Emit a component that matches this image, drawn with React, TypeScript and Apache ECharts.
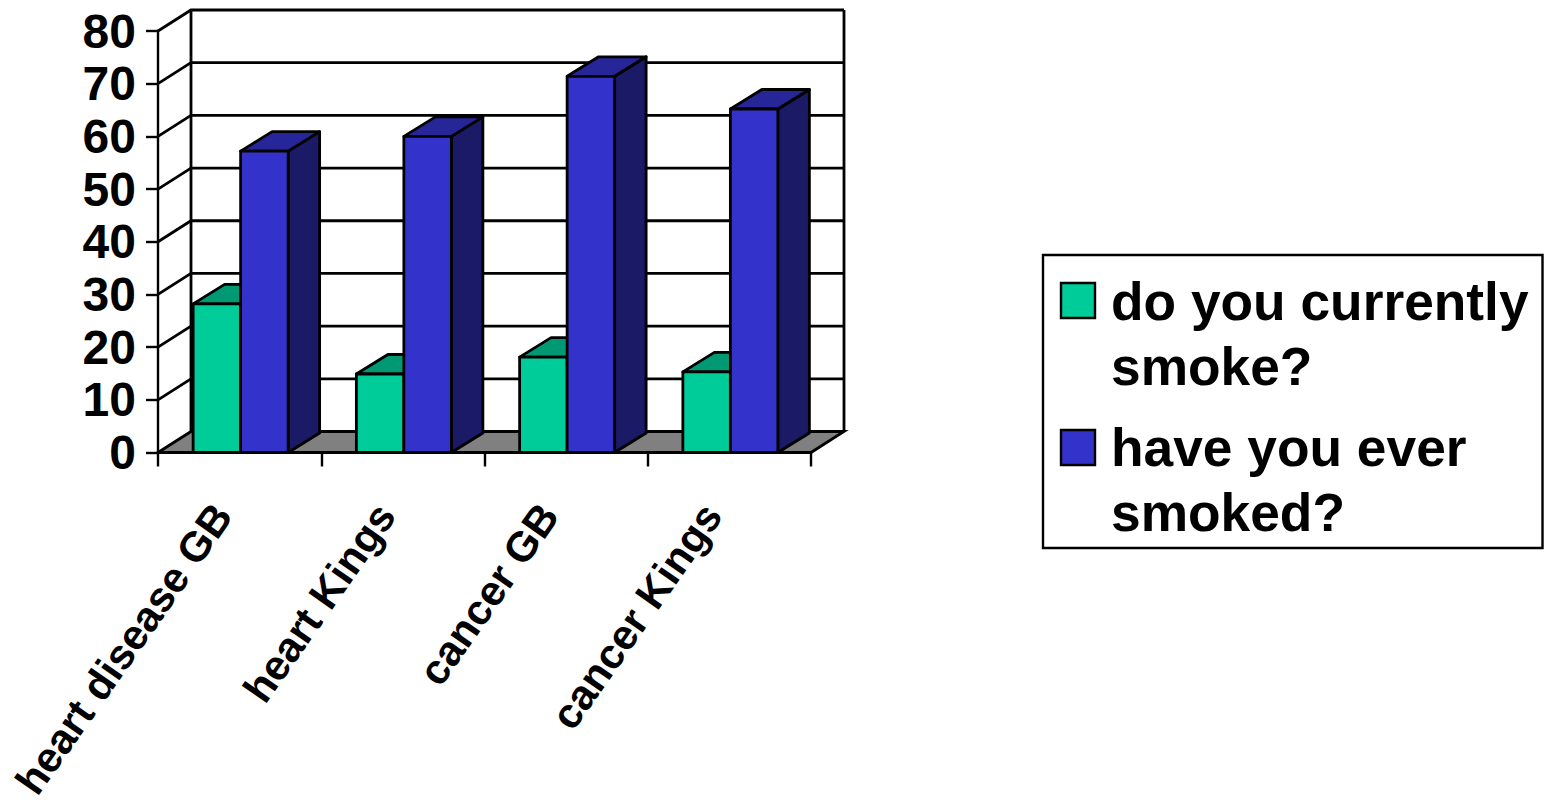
import React, { useEffect, useRef } from "react";
import * as echarts from "echarts";

const categories = ["heart disease GB", "heart Kings", "cancer GB", "cancer Kings"];
const currentlySmoke = [28.2, 14.9, 18.1, 15.3];
const everSmoked = [57.2, 60, 71.4, 65.2];
const yTicks = [0, 10, 20, 30, 40, 50, 60, 70, 80];
const legendLines1 = "do you currently\nsmoke?";
const legendLines2 = "have you ever\nsmoked?";

const FONT = '"Liberation Sans", Arial, sans-serif';
const DX = 33;
const DY = -21;
const BDX = 31.5;
const BDY = -19.5;
const BAR_RATIO = 47.5 / 163.25;
const BAR_SHIFT = 1;
const LW = 2.8;

function wallItem(params: any, api: any) {
  const v = api.value(0);
  const cs = params.coordSys;
  const y = api.coord([0, v])[1];
  const l = cs.x;
  const r = cs.x + cs.width;
  const st = { stroke: "#000", lineWidth: LW, fill: "none" };
  const ch: any[] = [];
  if (v === 0) {
    ch.push({
      type: "polygon",
      shape: { points: [[l, y], [l + DX, y + DY], [r + DX, y + DY], [r, y]] },
      style: { fill: "#808080", stroke: "#000", lineWidth: LW },
    });
    const top = api.coord([0, 80])[1];
    ch.push({ type: "line", shape: { x1: l + DX, y1: y + DY, x2: l + DX, y2: top + DY }, style: st });
    ch.push({ type: "line", shape: { x1: r + DX, y1: y + DY, x2: r + DX, y2: top + DY }, style: st });
  } else {
    ch.push({ type: "polyline", shape: { points: [[l, y], [l + DX, y + DY], [r + DX, y + DY]] }, style: st });
  }
  return { type: "group", children: ch };
}

function barItem(side: number, front: string, top: string, right: string) {
  return (_params: any, api: any) => {
    const idx = api.value(0);
    const [cx, yT] = api.coord([idx, api.value(1)]);
    const y0 = api.coord([idx, 0])[1];
    const w = api.size([1, 0])[0] * BAR_RATIO;
    const x1 = (side < 0 ? cx - w : cx) + BAR_SHIFT;
    const x2 = x1 + w;
    const s = { stroke: "#000", lineWidth: LW, lineJoin: "round" };
    return {
      type: "group",
      children: [
        { type: "polygon", shape: { points: [[x2, yT], [x2 + BDX, yT + BDY], [x2 + BDX, y0 + BDY], [x2, y0]] }, style: { fill: right, ...s } },
        { type: "polygon", shape: { points: [[x1, yT], [x1 + BDX, yT + BDY], [x2 + BDX, yT + BDY], [x2, yT]] }, style: { fill: top, ...s } },
        { type: "rect", shape: { x: x1, y: yT, width: w, height: y0 - yT }, style: { fill: front, ...s } },
      ],
    };
  };
}

export default function App() {
  const ref = useRef<HTMLDivElement>(null);
  useEffect(() => {
    const chart = echarts.init(ref.current!, undefined, { renderer: "svg" });
    const lbl = { fontFamily: FONT, fontWeight: "bold", fontSize: 53.3, fill: "#000", lineHeight: 65 };
    chart.setOption({
      animation: false,
      backgroundColor: "#fff",
      grid: { left: 158, top: 31, width: 653, height: 421.5, outerBoundsMode: "none" },
      xAxis: {
        type: "category",
        data: categories,
        boundaryGap: true,
        axisLine: { lineStyle: { color: "#000", width: 2.8 } },
        axisTick: { show: true, length: 14, alignWithLabel: false, lineStyle: { color: "#000", width: 2.4 } },
        axisLabel: {
          interval: 0,
          rotate: 55,
          margin: 31,
          padding: [0, 30, 0, 0],
          color: "#000",
          fontFamily: FONT,
          fontWeight: "bold",
          fontSize: 42,
        },
        splitLine: { show: false },
      },
      yAxis: {
        type: "value",
        min: 0,
        max: 80,
        interval: 10,
        axisLine: { show: true, lineStyle: { color: "#000", width: 2.4 } },
        axisTick: { show: true, length: 12, lineStyle: { color: "#000", width: 2.4 } },
        axisLabel: { margin: 22, color: "#000", fontFamily: FONT, fontWeight: "bold", fontSize: 48 },
        splitLine: { show: false },
      },
      series: [
        { type: "custom", name: "walls", renderItem: wallItem, clip: false, silent: true, z: 1, data: yTicks.map((v) => [v]), encode: { y: 0 } },
        {
          type: "custom",
          name: "do you currently smoke?",
          renderItem: barItem(-1, "#00CC99", "#009973", "#007A5C"),
          clip: false,
          z: 2,
          data: currentlySmoke.map((v, i) => [i, v]),
          encode: { x: 0, y: 1 },
        },
        {
          type: "custom",
          name: "have you ever smoked?",
          renderItem: barItem(1, "#3333CC", "#262699", "#1A1A66"),
          clip: false,
          z: 3,
          data: everSmoked.map((v, i) => [i, v]),
          encode: { x: 0, y: 1 },
        },
      ],
      graphic: [
        { type: "rect", shape: { x: 1043, y: 255, width: 499.5, height: 293 }, style: { fill: "#fff", stroke: "#000", lineWidth: 2.4 } },
        { type: "rect", shape: { x: 1061, y: 283, width: 34, height: 35 }, style: { fill: "#00CC99", stroke: "#000", lineWidth: 2.4 } },
        { type: "rect", shape: { x: 1061, y: 430, width: 34, height: 35 }, style: { fill: "#3333CC", stroke: "#000", lineWidth: 2.4 } },
        { type: "text", x: 1111, y: 269, style: { text: legendLines1, ...lbl } },
        { type: "text", x: 1111, y: 415, style: { text: legendLines2, ...lbl } },
      ],
    });
    return () => chart.dispose();
  }, []);
  return <div ref={ref} style={{ position: "fixed", left: 0, top: 0, width: 1550, height: 804 }} />;
}
